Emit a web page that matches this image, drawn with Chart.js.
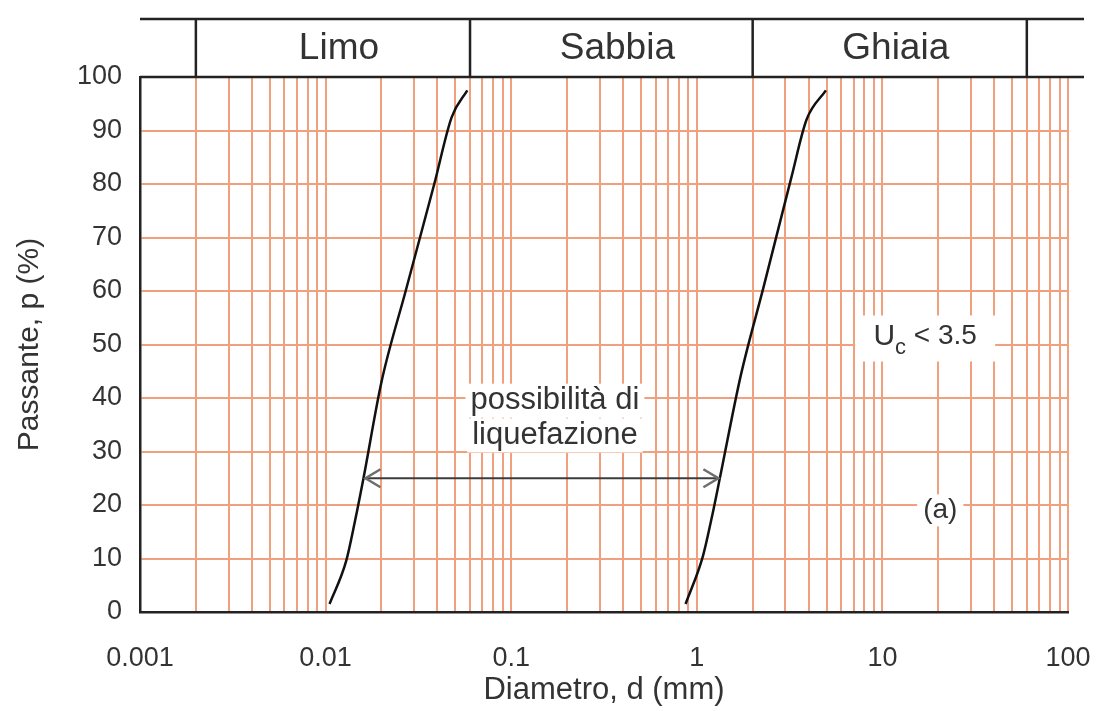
<!DOCTYPE html>
<html lang="it">
<head>
    <meta charset="UTF-8">
    <title>Fuso granulometrico - possibilità di liquefazione</title>
    <script src="https://cdn.jsdelivr.net/npm/chart.js"></script>
    <style>
        body {
            margin: 0;
            padding: 0;
            background: #fff;
        }
        #wrap {
            width: 1100px;
            height: 711px;
        }
    </style>
</head>
<body>
    <div id="wrap">
        <canvas id="granChart" width="1100" height="711"></canvas>
    </div>

    <script>
        // Curve limite del fuso (diametro in mm, passante in %)
        const fineDiam = [0.0105, 0.0129, 0.0144, 0.016, 0.020, 0.027, 0.0385, 0.0478, 0.058];
        const finePass = [1.5, 9.5, 17, 25, 43, 60, 80, 92.5, 97.5];
        const coarseDiam = [0.87, 1.08, 1.21, 1.34, 1.72, 2.30, 3.22, 3.9, 4.96];
        const coarsePass = [1.5, 10.5, 18, 25.5, 44, 61, 81, 92, 97.5];

        // Freccia "possibilità di liquefazione"
        const arrowDiam = [0.016, 1.34];
        const arrowPass = [25, 25];

        // Classi granulometriche in testa al grafico
        const bandNames = ['Limo', 'Sabbia', 'Ghiaia'];
        const bandLimits = [0.002, 0.06, 2, 60];

        // Etichette degli assi
        const xMajor = [0.001, 0.01, 0.1, 1, 10, 100];
        const xTickLabels = ['0.001', '0.01', '0.1', '1', '10', '100'];
        const yTicks = [0, 10, 20, 30, 40, 50, 60, 70, 80, 90, 100];

        const gridColor = '#f0a07c';
        const inkColor = '#222';
        const textColor = '#333';
        const fontFamily = '"Liberation Sans", Arial, sans-serif';

        // tutte le linee di griglia 1..9 per decade
        const xGridValues = [];
        xMajor.forEach((m, i) => {
            if (i === xMajor.length - 1) { xGridValues.push(m); return; }
            for (let k = 1; k <= 9; k++) xGridValues.push(m * k);
        });

        const toPoints = (xs, ys) => xs.map((v, i) => ({ x: v, y: ys[i] }));

        // Disegna la fascia Limo / Sabbia / Ghiaia e il bordo superiore
        const bandPlugin = {
            id: 'bands',
            afterDraw(chart) {
                const { ctx, chartArea: a, scales: { x } } = chart;
                const bandTop = a.top - 58;
                ctx.save();
                ctx.strokeStyle = inkColor;
                ctx.lineWidth = 2.5;
                ctx.beginPath();
                ctx.moveTo(a.left, bandTop);
                ctx.lineTo(a.right + 16, bandTop);
                ctx.moveTo(a.left, a.top);
                ctx.lineTo(a.right + 16, a.top);
                bandLimits.forEach(d => {
                    const px = x.getPixelForValue(d);
                    ctx.moveTo(px, bandTop);
                    ctx.lineTo(px, a.top);
                });
                ctx.stroke();

                ctx.fillStyle = textColor;
                ctx.font = '37px ' + fontFamily;
                ctx.textAlign = 'center';
                ctx.textBaseline = 'middle';
                bandNames.forEach((name, i) => {
                    const p0 = x.getPixelForValue(bandLimits[i]);
                    const p1 = x.getPixelForValue(bandLimits[i + 1]);
                    ctx.fillText(name, (p0 + p1) / 2 + 6, (bandTop + a.top) / 2 + 1);
                });
                ctx.restore();
            }
        };

        // Scritte nel grafico (su fondo bianco) e punte della freccia
        const notesPlugin = {
            id: 'notes',
            afterDraw(chart) {
                const { ctx, scales: { x, y } } = chart;
                ctx.save();
                ctx.textBaseline = 'middle';
                ctx.textAlign = 'center';

                function box(cx, cy, w, h) {
                    ctx.fillStyle = '#fff';
                    ctx.fillRect(cx - w / 2, cy - h / 2, w, h);
                }

                // possibilità di liquefazione
                ctx.font = '31px ' + fontFamily;
                const lx = x.getPixelForValue(0.172);
                const l1 = y.getPixelForValue(39.5);
                const l2 = y.getPixelForValue(33);
                const w1 = ctx.measureText('possibilità di').width;
                const w2 = ctx.measureText('liquefazione').width;
                box(lx, l1, w1 + 10, 34);
                box(lx, l2, w2 + 10, 34);
                ctx.fillStyle = textColor;
                ctx.fillText('possibilità di', lx, l1);
                ctx.fillText('liquefazione', lx, l2);

                // Uc < 3.5
                const ux = x.getPixelForValue(17);
                const uy = y.getPixelForValue(51.5);
                box(ux, uy + 2, 140, 46);
                ctx.textAlign = 'left';
                ctx.font = '30px ' + fontFamily;
                const wU = ctx.measureText('U').width;
                ctx.font = '22px ' + fontFamily;
                const wc = ctx.measureText('c').width;
                ctx.font = '28px ' + fontFamily;
                const wr = ctx.measureText(' < 3.5').width;
                let sx = ux - (wU + wc + wr) / 2;
                ctx.fillStyle = textColor;
                ctx.font = '30px ' + fontFamily;
                ctx.fillText('U', sx, uy);
                sx += wU;
                ctx.font = '22px ' + fontFamily;
                ctx.fillText('c', sx, uy + 11);
                sx += wc;
                ctx.font = '28px ' + fontFamily;
                ctx.fillText(' < 3.5', sx, uy);

                // (a)
                ctx.textAlign = 'center';
                ctx.font = '28px ' + fontFamily;
                const ax = x.getPixelForValue(20.5);
                const ay = y.getPixelForValue(19);
                box(ax, ay, ctx.measureText('(a)').width + 12, 32);
                ctx.fillStyle = textColor;
                ctx.fillText('(a)', ax, ay);

                // punte della freccia
                ctx.strokeStyle = '#6e6e6e';
                ctx.lineWidth = 2.5;
                const p0x = x.getPixelForValue(arrowDiam[0]);
                const p1x = x.getPixelForValue(arrowDiam[1]);
                const py = y.getPixelForValue(arrowPass[0]);
                ctx.beginPath();
                ctx.moveTo(p0x + 17, py - 9);
                ctx.lineTo(p0x + 2, py);
                ctx.lineTo(p0x + 17, py + 9);
                ctx.moveTo(p1x - 17, py - 9);
                ctx.lineTo(p1x - 2, py);
                ctx.lineTo(p1x - 17, py + 9);
                ctx.stroke();
                ctx.restore();
            }
        };

        const ctx = document.getElementById('granChart').getContext('2d');
        const granChart = new Chart(ctx, {
            type: 'line',
            data: {
                datasets: [
                    {
                        label: 'limite fine',
                        data: toPoints(fineDiam, finePass),
                        borderColor: '#111',
                        borderWidth: 2.5,
                        pointRadius: 0,
                        cubicInterpolationMode: 'monotone'
                    },
                    {
                        label: 'limite grosso',
                        data: toPoints(coarseDiam, coarsePass),
                        borderColor: '#111',
                        borderWidth: 2.5,
                        pointRadius: 0,
                        cubicInterpolationMode: 'monotone'
                    },
                    {
                        label: 'freccia',
                        data: toPoints(arrowDiam, arrowPass),
                        borderColor: '#3c3c3c',
                        borderWidth: 2,
                        pointRadius: 0
                    }
                ]
            },
            options: {
                responsive: false,
                animation: false,
                layout: {
                    padding: { top: 77, right: 32, left: 0, bottom: 0 }
                },
                plugins: {
                    legend: { display: false },
                    tooltip: { enabled: false }
                },
                scales: {
                    x: {
                        type: 'logarithmic',
                        min: 0.001,
                        max: 100,
                        afterBuildTicks: s => { s.ticks = xGridValues.map(v => ({ value: v })); },
                        afterFit: s => { s.height = 99; s.paddingLeft = 0; s.paddingRight = 0; },
                        grid: { color: gridColor, lineWidth: 2, drawTicks: false },
                        border: { color: inkColor, width: 2.5 },
                        ticks: {
                            autoSkip: false,
                            maxRotation: 0,
                            padding: 30,
                            color: textColor,
                            font: { family: fontFamily, size: 27 },
                            callback: v => {
                                const i = xMajor.findIndex(m => Math.abs(m - v) / m < 1e-6);
                                return i >= 0 ? xTickLabels[i] : '';
                            }
                        },
                        title: {
                            display: true,
                            text: 'Diametro, d (mm)',
                            color: textColor,
                            font: { family: fontFamily, size: 31 },
                            padding: { top: 0, bottom: 2 }
                        }
                    },
                    y: {
                        min: 0,
                        max: 100,
                        afterBuildTicks: s => { s.ticks = yTicks.map(v => ({ value: v })); },
                        afterFit: s => { s.width = 140; },
                        grid: { color: gridColor, lineWidth: 2, drawTicks: false },
                        border: { color: inkColor, width: 2.5 },
                        ticks: {
                            padding: 18,
                            color: textColor,
                            font: { family: fontFamily, size: 27 }
                        },
                        title: {
                            display: true,
                            text: 'Passante, p (%)',
                            color: textColor,
                            font: { family: fontFamily, size: 30 },
                            padding: { top: 12, bottom: 0 }
                        }
                    }
                }
            },
            plugins: [bandPlugin, notesPlugin]
        });
    </script>
</body>
</html>
